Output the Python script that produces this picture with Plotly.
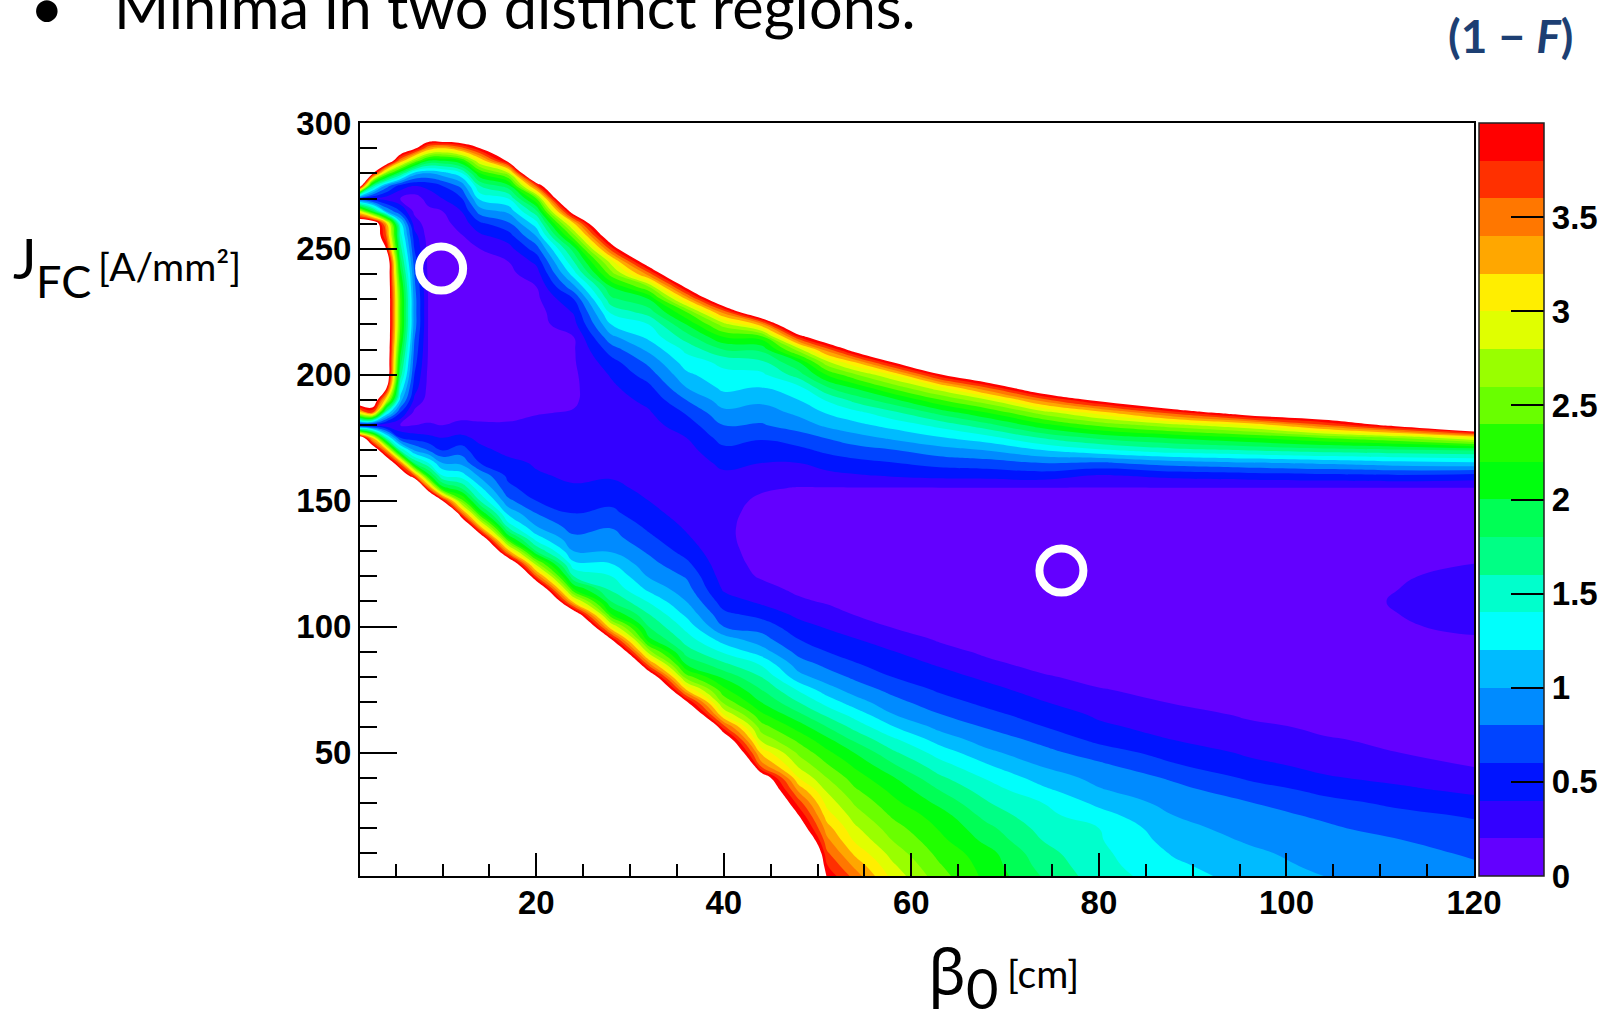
import plotly.graph_objects as go

# value used for cells above the top of the colour scale (drawn white)
W = 4.6

# grid of the map: beta_0 [cm] columns and J_FC [A/mm^2] rows
beta_cm = [1, 2.5, 4, 5.5, 7, 8.5, 10, 12, 14, 17, 20, 24, 28, 32, 36, 40, 44,
           48, 51, 54, 58, 63, 68, 74, 80, 88, 96, 104, 112, 120]
j_fc = list(range(0, 301, 5))

# (1 - F), one list per beta column, J = 0 ... 300
# (values above 4 are outside the colour scale and stay white)
z_b001 = [W]*36 + [0.3, 3.0] + [W]*15 + [3.0, 0.6] + [W]*6
z_b002 = [W]*35 + [3.2, 0.3, 3.6] + [W]*15 + [2.0, 0.4, 1.7, 4.1] + [W]*4
z_b004 = [W]*34 + [3.4, 1.5, 0.25, 1.4, 3.0, 4.1] + [W]*10 + [4.0, 3.6, 3.3, 1.0, 0.3, 0.9, 2.6] + [W]*4
z_b005 = [W]*33 + [3.5, 1.6, 0.6, 0.2, 0.6, 1.1, 1.4, 1.7, 1.9, 2.1, 2.3, 2.4, 2.4, 2.4, 2.3,
                   2.1, 1.9, 1.7, 1.5, 1.3, 0.6, 0.2, 0.5, 1.8, 3.4] + [W]*3
z_b007 = [W]*30 + [6.0, 5.4] + \
         [3.6, 1.8, 1.0, 0.5, 0.2, 0.15, 0.35, 0.5, 0.6, 0.68, 0.75, 0.82, 0.9, 0.9, 0.9,
          0.85, 0.8, 0.7, 0.6, 0.5, 0.3, 0.15, 0.1, 0.4, 1.1, 2.6, 4.1] + [W]*2
z_b008 = [W]*29 + [6.0, 5.3] + \
         [3.6, 2.1, 1.4, 0.8, 0.45, 0.22, 0.12, 0.12, 0.14, 0.15, 0.17, 0.18, 0.18, 0.18,
          0.18, 0.18, 0.17, 0.15, 0.14, 0.13, 0.1, 0.1, 0.15, 0.28, 0.45, 1.0, 2.0, 3.4] + [W]*2
z_b010 = [W]*29 + [5.9] + [4.0, 2.1, 1.4, 1.0, 0.6, 0.4, 0.2, 0.12] + [0.1]*8 + \
         [0.09, 0.08, 0.05, 0.05, 0.07, 0.1, 0.13, 0.2, 0.4, 0.6, 1.1, 2.0, 3.2] + [4.8, 6.0]
z_b012 = [W]*27 + [6.0, 4.9] + [3.6, 2.5, 1.8, 1.3, 0.95, 0.7, 0.45, 0.25, 0.12] + [0.1]*9 + \
         [0.08, 0.08, 0.08, 0.1, 0.18, 0.28, 0.4, 0.58, 0.85, 1.35, 2.2, 3.5] + [4.75, 6.0]
z_b014 = [W]*26 + [5.5, 4.5] + [3.2, 2.2, 1.6, 1.25, 0.95, 0.6, 0.45, 0.35, 0.22, 0.15] + [0.1]*11 + \
         [0.13, 0.2, 0.35, 0.55, 0.9, 1.25, 1.6, 2.2, 3.0, 4.0] + [5.0, 6.0]
z_b017 = [W]*24 + [5.75, 4.65] + \
         [3.3, 2.2, 1.5, 1.15, 0.85, 0.65, 0.55, 0.45, 0.35, 0.3, 0.22, 0.15] + [0.12]*10 + \
         [0.15, 0.2, 0.32, 0.5, 0.75, 1.05, 1.4, 1.9, 2.7, 4.1] + [5.5, 6.0, 6.0]
z_b020 = [W]*22 + [5.6, 4.7] + \
         [3.6, 2.7, 1.8, 1.3, 1.0, 0.8, 0.6, 0.5, 0.42, 0.38, 0.33, 0.3, 0.24, 0.19, 0.15] + \
         [0.12]*7 + [0.15, 0.2, 0.3, 0.45, 0.7, 1.0, 1.3, 1.75, 2.4, 3.6] + [5.3, 6.0] + [W]*3
z_b024 = [W]*20 + [5.3, 4.36] + \
         [3.1, 2.2, 1.6, 1.25, 1.0, 0.85, 0.7, 0.6, 0.5, 0.42, 0.37, 0.33, 0.3, 0.27, 0.24,
          0.21, 0.18, 0.17, 0.17, 0.18, 0.18, 0.2, 0.33, 0.42, 0.6, 0.95, 1.3, 1.6, 1.9, 2.5,
          3.15] + [4.3, 5.5, 6.0] + [W]*5
z_b028 = [W]*17 + [5.9, 4.9] + \
         [4.0, 3.0, 2.2, 1.8, 1.55, 1.4, 1.2, 0.98, 0.88, 0.78, 0.65, 0.55, 0.45, 0.38, 0.33,
          0.3, 0.28, 0.28, 0.3, 0.32, 0.36, 0.42, 0.52, 0.7, 0.95, 1.2, 1.45, 1.75, 2.0, 2.5,
          2.9, 3.7] + [4.45, 5.2, 6.0] + [W]*7
z_b032 = [W]*15 + [5.25, 4.45] + \
         [3.5, 2.7, 2.05, 1.8, 1.6, 1.38, 1.15, 0.98, 0.87, 0.77, 0.65, 0.55, 0.46, 0.4, 0.35,
          0.31, 0.29, 0.28, 0.3, 0.33, 0.38, 0.45, 0.55, 0.7, 0.85, 1.05, 1.25, 1.4, 1.7, 2.0,
          2.6, 3.5] + [4.36, 5.3, 6.0] + [W]*9
z_b036 = [W]*12 + [5.9, 4.8] + \
         [4.07, 3.2, 2.5, 2.0, 1.7, 1.5, 1.33, 1.15, 1.0, 0.88, 0.78, 0.65, 0.52, 0.43, 0.37,
          0.32, 0.28, 0.26, 0.26, 0.28, 0.33, 0.4, 0.5, 0.62, 0.8, 1.0, 1.15, 1.3, 1.45, 1.7,
          2.0, 2.4, 3.2] + [4.1, 5.0, 6.0] + [W]*11
z_b040 = [W]*9 + [6.0, 4.95, 4.4] + \
         [3.7, 3.0, 2.55, 2.25, 1.95, 1.65, 1.37, 1.1, 0.8, 0.65, 0.5, 0.37, 0.3, 0.26, 0.24,
          0.23, 0.23, 0.24, 0.26, 0.3, 0.36, 0.45, 0.55, 0.68, 0.8, 0.95, 1.1, 1.25, 1.35, 1.45,
          1.8, 2.2, 2.7, 3.5] + [4.6, 5.6, 6.0] + [W]*12
z_b044 = [W]*4 + [5.5, 5.2, 4.9, 4.65, 4.33] + \
         [3.5, 3.15, 2.75, 2.5, 2.25, 2.0, 1.8, 1.6, 1.38, 1.1, 0.88, 0.72, 0.52, 0.36, 0.26,
          0.18, 0.16, 0.15, 0.14, 0.14, 0.15, 0.17, 0.22, 0.3, 0.4, 0.5, 0.62, 0.78, 0.9, 1.05,
          1.2, 1.35, 1.55, 1.85, 2.3, 3.3] + [4.7, 5.7, 6.0] + [W]*13
z_b048 = [6.0, 5.6, 5.45, 4.8, 4.3] + \
         [4.0, 3.7, 3.35, 3.0, 2.75, 2.55, 2.35, 2.12, 1.85, 1.6, 1.37, 1.07, 0.9, 0.73, 0.6,
          0.47, 0.35, 0.23, 0.16, 0.12, 0.1, 0.08, 0.08, 0.08, 0.08, 0.12, 0.19, 0.3, 0.4, 0.55,
          0.7, 0.9, 1.05, 1.2, 1.35, 1.7, 2.0, 2.7, 3.8] + [4.9, 6.0] + [W]*15
z_b051 = [4.0, 3.82, 3.64, 3.46, 3.29, 3.1, 2.93, 2.77, 2.6, 2.42, 2.25, 2.06, 1.81, 1.56, 1.32,
          1.09, 0.9, 0.75, 0.6, 0.49, 0.38, 0.27, 0.18, 0.14, 0.11, 0.09, 0.08, 0.08, 0.08, 0.08,
          0.12, 0.19, 0.34, 0.49, 0.64, 0.81, 1.04, 1.22, 1.42, 1.78, 2.21, 2.74, 3.5] + \
         [4.5, 5.5, 6.0] + [W]*15
z_b054 = [3.55, 3.35, 3.15, 2.97, 2.84, 2.7, 2.57, 2.43, 2.3, 2.16, 1.99, 1.76, 1.54, 1.32, 1.09,
          0.91, 0.76, 0.62, 0.51, 0.41, 0.29, 0.19, 0.14, 0.11, 0.09, 0.08, 0.08, 0.08, 0.08, 0.08,
          0.12, 0.19, 0.38, 0.54, 0.71, 0.92, 1.14, 1.34, 1.67, 2.04, 2.57, 3.2] + \
         [4.2, 5.2, 6.0] + [W]*16
z_b058 = [2.95, 2.84, 2.72, 2.6, 2.49, 2.37, 2.26, 2.15, 2.02, 1.83, 1.64, 1.45, 1.22, 1.01, 0.87,
          0.74, 0.6, 0.5, 0.41, 0.29, 0.19, 0.14, 0.11, 0.09, 0.08, 0.07, 0.07, 0.07, 0.07, 0.07,
          0.11, 0.19, 0.42, 0.59, 0.78, 1.04, 1.27, 1.55, 1.94, 2.46, 3.0, 4.0] + \
         [5.0, 6.0] + [W]*17
z_b063 = [2.5, 2.42, 2.34, 2.26, 2.18, 2.1, 1.95, 1.8, 1.64, 1.48, 1.31, 1.12, 0.95, 0.81, 0.68,
          0.57, 0.48, 0.38, 0.26, 0.18, 0.14, 0.11, 0.09, 0.07, 0.06, 0.06, 0.07, 0.07, 0.07, 0.07,
          0.11, 0.19, 0.46, 0.67, 0.91, 1.18, 1.46, 1.87, 2.38, 2.94, 3.95] + \
         [5.0, 6.0] + [W]*18
z_b068 = [2.15, 2.12, 2.08, 1.95, 1.86, 1.73, 1.62, 1.5, 1.38, 1.22, 1.05, 0.91, 0.79, 0.66, 0.55,
          0.46, 0.36, 0.24, 0.17, 0.13, 0.1, 0.08, 0.07, 0.06, 0.05, 0.05, 0.06, 0.07, 0.07, 0.07,
          0.1, 0.19, 0.47, 0.71, 1.0, 1.32, 1.72, 2.2, 2.77, 3.6] + \
         [4.6, 5.6, 6.0] + [W]*18
z_b074 = [1.8, 1.73, 1.67, 1.6, 1.53, 1.46, 1.4, 1.25, 1.11, 0.98, 0.86, 0.75, 0.61, 0.51, 0.41,
          0.32, 0.22, 0.15, 0.11, 0.09, 0.07, 0.05, 0.05, 0.04, 0.04, 0.04, 0.05, 0.06, 0.07, 0.08,
          0.11, 0.19, 0.5, 0.8, 1.19, 1.62, 2.12, 2.7, 3.5] + \
         [4.5, 5.5, 6.0] + [W]*19
z_b080 = [1.5, 1.47, 1.45, 1.42, 1.4, 1.28, 1.15, 1.02, 0.94, 0.84, 0.7, 0.55, 0.44, 0.37, 0.29,
          0.21, 0.15, 0.11, 0.09, 0.07, 0.06, 0.05, 0.05, 0.05, 0.05, 0.05, 0.05, 0.06, 0.07, 0.08,
          0.11, 0.19, 0.38, 0.77, 1.35, 1.85, 2.44, 3.1] + \
         [4.1, 5.1, 6.0] + [W]*20
z_b088 = [1.3, 1.24, 1.18, 1.12, 1.06, 1.0, 0.93, 0.86, 0.77, 0.62, 0.51, 0.4, 0.33, 0.26, 0.19,
          0.15, 0.12, 0.1, 0.09, 0.08, 0.07, 0.07, 0.07, 0.07, 0.07, 0.07, 0.07, 0.07, 0.08, 0.09,
          0.12, 0.19, 0.46, 0.9, 1.52, 2.03, 2.73, 3.7] + \
         [4.8, 5.8] + [W]*21
z_b096 = [1.13, 1.08, 1.04, 0.98, 0.93, 0.87, 0.81, 0.7, 0.57, 0.45, 0.37, 0.3, 0.23, 0.18, 0.16,
          0.14, 0.12, 0.11, 0.1, 0.1, 0.1, 0.1, 0.1, 0.1, 0.09, 0.09, 0.09, 0.09, 0.09, 0.1,
          0.13, 0.19, 0.5, 0.98, 1.6, 2.2, 3.0, 4.3] + \
         [5.5, 6.0] + [W]*21
z_b104 = [1.01, 0.96, 0.92, 0.88, 0.83, 0.77, 0.66, 0.55, 0.42, 0.35, 0.28, 0.21, 0.18, 0.16, 0.15,
          0.14, 0.13, 0.12, 0.12, 0.12, 0.13, 0.14, 0.15, 0.14, 0.13, 0.12, 0.11, 0.11, 0.11, 0.11,
          0.14, 0.19, 0.54, 1.04, 1.69, 2.41, 3.55] + \
         [4.6, 5.6, 6.0] + [W]*21
z_b112 = [0.93, 0.89, 0.85, 0.81, 0.73, 0.65, 0.56, 0.44, 0.35, 0.27, 0.2, 0.18, 0.16, 0.15, 0.14,
          0.14, 0.14, 0.15, 0.16, 0.17, 0.19, 0.2, 0.21, 0.2, 0.19, 0.17, 0.15, 0.13, 0.13, 0.13,
          0.15, 0.19, 0.57, 1.12, 1.74, 2.62] + \
         [4.15, 5.7, 6.0] + [W]*22
z_b120 = [0.85, 0.82, 0.78, 0.71, 0.65, 0.58, 0.47, 0.36, 0.26, 0.19, 0.17, 0.15, 0.14, 0.13, 0.13,
          0.13, 0.14, 0.15, 0.17, 0.19, 0.22, 0.26, 0.27, 0.26, 0.23, 0.2, 0.17, 0.15, 0.14, 0.14,
          0.16, 0.19, 0.52, 1.16, 1.8, 3.0] + \
         [5.0, 6.0] + [W]*23

z_columns = [z_b001, z_b002, z_b004, z_b005, z_b007, z_b008, z_b010, z_b012, z_b014, z_b017,
             z_b020, z_b024, z_b028, z_b032, z_b036, z_b040, z_b044, z_b048, z_b051, z_b054,
             z_b058, z_b063, z_b068, z_b074, z_b080, z_b088, z_b096, z_b104, z_b112, z_b120]
for i, col in enumerate(z_columns):
    if len(col) != len(j_fc):
        raise ValueError(f"column {i} (beta={beta_cm[i]}) has {len(col)} values")

# marked minima
minima_beta = [9.85, 76.0]
minima_jfc = [242.2, 122.3]

# colour bar
bar_ticks = [0, 0.5, 1, 1.5, 2, 2.5, 3, 3.5]
bar_labels = ["0", "0.5", "1", "1.5", "2", "2.5", "3", "3.5"]
band_colors = ["#6300ff", "#3300ff", "#0014ff", "#0044ff", "#008bff", "#00bbff", "#00fffc",
               "#00ffcc", "#00ff85", "#00ff55", "#00ff0e", "#22ff00", "#69ff00", "#99ff00",
               "#e0ff00", "#ffee00", "#ffa700", "#ff7700", "#ff3000", "#ff0000"]

n = len(band_colors)
fill_colors = band_colors + ["#ffffff"]
contour_scale = []
for k, c in enumerate(fill_colors):
    contour_scale.append([max(0.0, (k - 0.5) / n), c])
    contour_scale.append([min(1.0, (k + 0.5) / n), c])
bar_scale = []
for k, c in enumerate(band_colors):
    bar_scale.append([k / n, c])
    bar_scale.append([(k + 1) / n, c])

tick_font = dict(family="Liberation Sans", size=33, color="black", weight="bold")

fig = go.Figure()
fig.add_trace(go.Contour(
    x=beta_cm, y=j_fc, z=z_columns, transpose=True,
    autocontour=False,
    contours=dict(start=0.2, end=4.0, size=0.2, coloring="fill", showlines=False),
    colorscale=contour_scale, showscale=False, line=dict(width=0, smoothing=1.3),
    hoverinfo="skip",
))
fig.add_trace(go.Scatter(
    x=[60, 60], y=[150, 150], mode="markers", hoverinfo="skip", showlegend=False,
    marker=dict(size=1, opacity=0, color=[0, 4], cmin=0, cmax=4, colorscale=bar_scale,
                showscale=True,
                colorbar=dict(x=1.0045, xanchor="left", xpad=0, y=0.5, yanchor="middle", ypad=0,
                              len=1, lenmode="fraction", thickness=65, thicknessmode="pixels",
                              outlinewidth=1.5, outlinecolor="#222",
                              tickmode="array", tickvals=bar_ticks, ticktext=bar_labels,
                              ticks="inside", ticklen=33, tickwidth=1.5, tickcolor="black",
                              tickfont=tick_font)),
))
fig.add_trace(go.Scatter(
    x=minima_beta, y=minima_jfc, mode="markers", hoverinfo="skip", showlegend=False,
    marker=dict(symbol="circle-open", size=44, color="white", line=dict(width=8, color="white")),
))

fig.update_xaxes(
    range=[1.2, 120], tickmode="array", tickvals=[20, 40, 60, 80, 100, 120],
    ticks="inside", ticklen=23, tickwidth=2, tickcolor="black",
    minor=dict(ticks="inside", ticklen=12, tickwidth=2, tickcolor="black", dtick=5, tick0=0,
               showgrid=False),
    showline=True, linewidth=2, linecolor="black", mirror=True,
    showgrid=False, zeroline=False, tickfont=tick_font, ticklabelstandoff=-4,
)
fig.update_yaxes(
    range=[1, 300], tickmode="array", tickvals=[50, 100, 150, 200, 250, 300],
    ticks="inside", ticklen=37, tickwidth=2, tickcolor="black",
    minor=dict(ticks="inside", ticklen=17, tickwidth=2, tickcolor="black", dtick=10, tick0=0,
               showgrid=False),
    showline=True, linewidth=2, linecolor="black", mirror=True,
    showgrid=False, zeroline=False, tickfont=tick_font,
)


def px_x(px):
    return (px - 360) / 1114


def px_y(py):
    return (876 - py) / 753


ann = [
    dict(text="•", x=px_x(47), y=px_y(6.6), xanchor="center", yanchor="middle",
         font=dict(family="Lato", size=58, color="black")),
    dict(text="Minima in two distinct regions.", x=px_x(112), y=px_y(6.2), xanchor="left",
         yanchor="middle", font=dict(family="Lato", size=59.5, color="black")),
    dict(text="(1 − <i>F</i>)", x=px_x(1446), y=px_y(35), xanchor="left", yanchor="middle",
         font=dict(family="Lato", size=46, color="#1d3f73", weight="bold")),
    dict(text="J", x=px_x(11), y=px_y(257), xanchor="left", yanchor="middle",
         font=dict(family="Lato", size=56, color="black")),
    dict(text="FC", x=px_x(34), y=px_y(281), xanchor="left", yanchor="middle",
         font=dict(family="Lato", size=45, color="black")),
    dict(text="[A/mm²]", x=px_x(96), y=px_y(266), xanchor="left", yanchor="middle",
         font=dict(family="Lato", size=39, color="black")),
    dict(text="β", x=px_x(926), y=px_y(970), xanchor="left", yanchor="middle",
         font=dict(family="Noto Sans", size=62, color="black")),
    dict(text="0", x=px_x(964), y=px_y(987), xanchor="left", yanchor="middle",
         font=dict(family="Lato", size=56, color="black")),
    dict(text="[cm]", x=px_x(1005), y=px_y(973), xanchor="left", yanchor="middle",
         font=dict(family="Lato", size=39, color="black")),
]
for a in ann:
    a.update(xref="paper", yref="paper", showarrow=False)

fig.update_layout(
    width=1607, height=1009,
    margin=dict(l=360, r=133, t=123, b=133, autoexpand=False),
    paper_bgcolor="white", plot_bgcolor="white",
    showlegend=False,
    font=dict(family="Liberation Sans", color="black"),
    annotations=ann,
)

fig.write_html("out.html")
